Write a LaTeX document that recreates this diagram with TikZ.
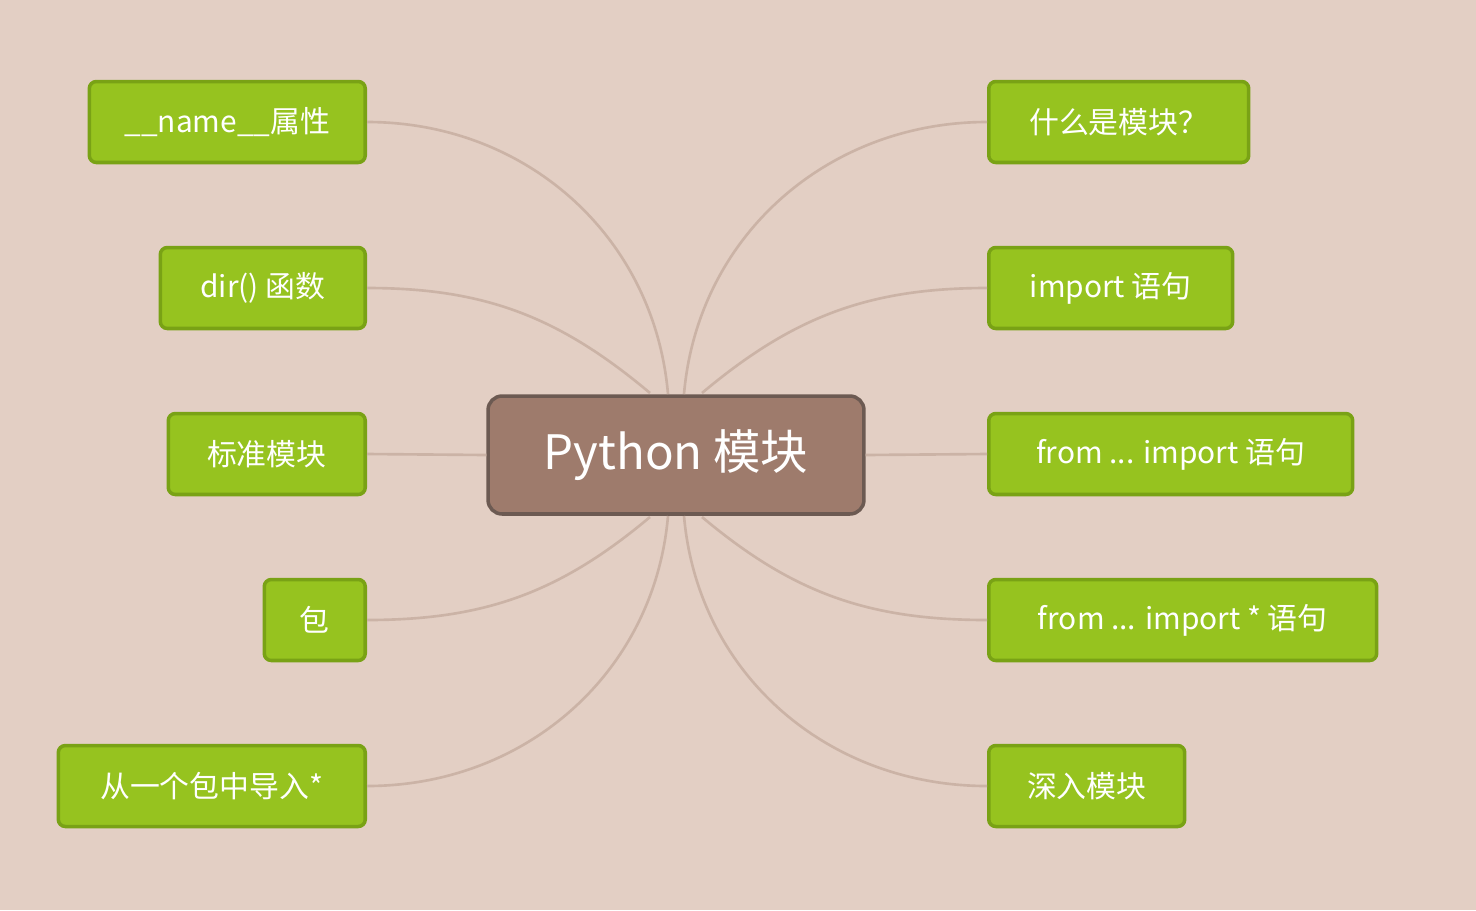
\documentclass[tikz,border=0pt]{standalone}
\usepackage{fontspec}
\setmainfont{Noto Sans CJK SC}
\usetikzlibrary{positioning}
\definecolor{bgcol}{HTML}{E3CFC4}
\definecolor{leaf}{HTML}{96C31F}
\definecolor{leafline}{HTML}{79A215}
\definecolor{hub}{HTML}{9E7B6C}
\definecolor{hubline}{HTML}{6C5A52}
\definecolor{link}{HTML}{CBB3A6}
\tikzset{
  leafbox/.style={draw=leafline, line width=2pt, fill=leaf, rounded corners=4pt,
    text=white, font=\fontsize{17}{20}\selectfont, minimum height=1.62cm, inner xsep=0.6cm},
  hubbox/.style={draw=hubline, line width=2pt, fill=hub, rounded corners=8pt,
    text=white, font=\fontsize{27}{32}\selectfont, minimum height=2.36cm, minimum width=7.52cm},
  link/.style={draw=link, line width=1.5pt}
}
\begin{document}
\begin{tikzpicture}[x=0.02cm, y=-0.02cm]
  \fill[bgcol] (0,0) rectangle (1476,910);
  % centre
  \node[hubbox] (hub) at (676,455) {Python 模块};
  % right side
  \node[leafbox, anchor=west, minimum width=5.2cm] (r1) at (987,122) {什么是模块？};
  \node[leafbox, anchor=west, minimum width=4.88cm] (r2) at (987,288) {import 语句};
  \node[leafbox, anchor=west, minimum width=7.28cm] (r3) at (987,454) {from ... import 语句};
  \node[leafbox, anchor=west, minimum width=7.76cm] (r4) at (987,620) {from ... import * 语句};
  \node[leafbox, anchor=west, minimum width=3.92cm] (r5) at (987,786) {深入模块};
  % left side
  \node[leafbox, anchor=east, minimum width=5.52cm] (l1) at (367,122) {\_\_name\_\_属性};
  \node[leafbox, anchor=east, minimum width=4.1cm] (l2) at (367,288) {dir() 函数};
  \node[leafbox, anchor=east, minimum width=3.94cm] (l3) at (367,454) {标准模块};
  \node[leafbox, anchor=east, minimum width=2.02cm] (l4) at (367,620) {包};
  \node[leafbox, anchor=east, minimum width=6.14cm] (l5) at (367,786) {从一个包中导入*};
  % contact points on the hub
  \coordinate (t1) at (668,394);
  \coordinate (t2) at (650,393);
  \coordinate (t3) at (684,394);
  \coordinate (t4) at (702,393);
  \coordinate (b1) at (668,516);
  \coordinate (b2) at (650,517);
  \coordinate (b3) at (684,516);
  \coordinate (b4) at (702,517);
  \begin{scope}[on background layer/.style={}]
  \end{scope}
  \draw[link] (l1.east) to[out=0, in=95] (t1);
  \draw[link] (l2.east) to[out=0, in=140] (t2);
  \draw[link] (l3.east) -- (hub.west);
  \draw[link] (l4.east) to[out=0, in=-140] (b2);
  \draw[link] (l5.east) to[out=0, in=-95] (b1);
  \draw[link] (r1.west) to[out=180, in=85] (t3);
  \draw[link] (r2.west) to[out=180, in=40] (t4);
  \draw[link] (r3.west) -- (hub.east);
  \draw[link] (r4.west) to[out=180, in=-40] (b4);
  \draw[link] (r5.west) to[out=180, in=-85] (b3);
\end{tikzpicture}
\end{document}
